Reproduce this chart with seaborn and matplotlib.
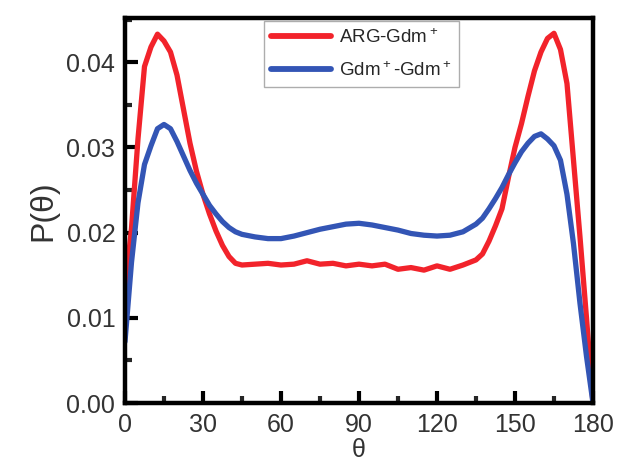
import numpy as np
import pandas as pd
import seaborn as sns
import matplotlib.pyplot as plt

theta = [0, 2.5, 5, 7.5, 10, 12.5, 15, 17.5, 20, 22.5, 25, 27.5, 30, 32.5, 35, 37.5,
         40, 42.5, 45, 50, 55, 60, 65, 70, 75, 80, 85, 90, 95, 100, 105, 110, 115,
         120, 125, 130, 135, 137.5, 140, 142.5, 145, 147.5, 150, 152.5, 155, 157.5,
         160, 162.5, 165, 167.5, 170, 172.5, 175, 177.5, 180]

arg_gdm = [0.0133, 0.0205, 0.0310, 0.0395, 0.0418, 0.0433, 0.0425, 0.0412, 0.0385,
           0.0345, 0.0305, 0.0272, 0.0245, 0.0222, 0.0202, 0.0185, 0.0172, 0.0164,
           0.0162, 0.0163, 0.0164, 0.0162, 0.0163, 0.0167, 0.0163, 0.0164, 0.0161,
           0.0163, 0.0161, 0.0163, 0.0157, 0.0159, 0.0156, 0.0161, 0.0157, 0.0162,
           0.0168, 0.0175, 0.0190, 0.0208, 0.0228, 0.0265, 0.0300, 0.0328, 0.0360,
           0.0390, 0.0412, 0.0428, 0.0434, 0.0415, 0.0375, 0.0285, 0.0195, 0.0100,
           0.0000]

gdm_gdm = [0.0072, 0.0165, 0.0235, 0.0280, 0.0302, 0.0322, 0.0327, 0.0322, 0.0307,
           0.0290, 0.0273, 0.0258, 0.0245, 0.0232, 0.0222, 0.0213, 0.0206, 0.0201,
           0.0198, 0.0195, 0.0193, 0.0193, 0.0196, 0.0200, 0.0204, 0.0207, 0.0210,
           0.0211, 0.0209, 0.0206, 0.0203, 0.0199, 0.0197, 0.0196, 0.0197, 0.0201,
           0.0210, 0.0217, 0.0228, 0.0240, 0.0253, 0.0268, 0.0282, 0.0295, 0.0305,
           0.0313, 0.0316, 0.0310, 0.0302, 0.0285, 0.0245, 0.0187, 0.0117, 0.0055,
           0.0000]

labels = ['ARG-Gdm$^+$', 'Gdm$^+$-Gdm$^+$']
colors = ['#f2232b', '#3355b5']

df = pd.DataFrame({
    'theta': theta * 2,
    'P': arg_gdm + gdm_gdm,
    'pair': [labels[0]] * len(theta) + [labels[1]] * len(theta),
})

sns.set_style('ticks')
plt.rcParams['font.family'] = ['Liberation Sans', 'DejaVu Sans']
plt.rcParams['mathtext.default'] = 'regular'

fig = plt.figure(figsize=(6.24, 4.67), dpi=100)
ax = fig.add_axes([0.2003, 0.137, 0.75, 0.8245])

sns.lineplot(data=df, x='theta', y='P', hue='pair', palette=colors,
             linewidth=3.8, ax=ax)

ax.set_xlim(0, 180)
ax.set_ylim(0, 0.0452)
ax.set_xticks([0, 30, 60, 90, 120, 150, 180])
ax.set_xticks(np.arange(15, 180, 30), minor=True)
ax.set_yticks([0, 0.01, 0.02, 0.03, 0.04])
ax.set_yticks([0.005, 0.015, 0.025, 0.035, 0.045], minor=True)
ax.set_yticklabels(['0.00', '0.01', '0.02', '0.03', '0.04'])

ax.tick_params(which='major', direction='in', length=9, width=3,
               labelsize=18, pad=7, colors='black', labelcolor='#333333')
ax.tick_params(which='minor', direction='in', length=5, width=3)
for s in ax.spines.values():
    s.set_linewidth(3.2)
    s.set_color('black')

ax.set_xlabel('θ', fontsize=18, labelpad=1, color='#333333')
ax.set_ylabel('P(θ)', fontsize=23, labelpad=6, color='#333333')

leg = ax.legend(loc='upper center', bbox_to_anchor=(0.505, 1.0), fontsize=13.5,
                frameon=True, fancybox=False, handlelength=3.2,
                borderpad=0.4, labelspacing=0.75, handletextpad=0.4,
                borderaxespad=0.15)
leg.get_frame().set_edgecolor('#999999')
leg.get_frame().set_linewidth(1)
for h in leg.get_lines():
    h.set_linewidth(4.2)

fig.savefig('out.png', dpi=100)
